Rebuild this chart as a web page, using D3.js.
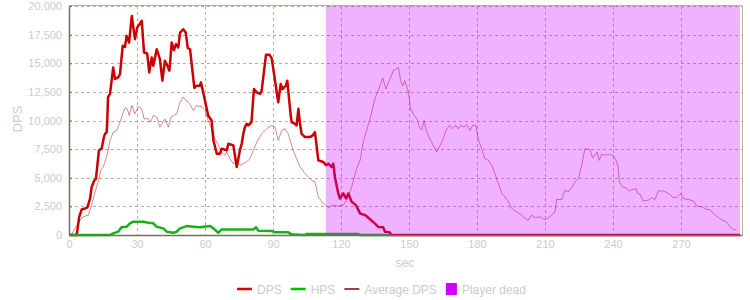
<!DOCTYPE html>
<html>
<head>
<meta charset="utf-8">
<script src="https://cdn.jsdelivr.net/npm/d3@7"></script>
<style>
  body { margin: 0; background: #fff; }
  svg text { font-family: "Liberation Sans", Arial, sans-serif; fill: #cccccc; }
</style>
</head>
<body>
<div id="chart"></div>
<script>
// time (sec), value pairs
const dps = [[0,0],[3.4,0],[4.5,1590],[5.6,2230],[7.1,2320],[8.1,2410],[9.3,3190],[10,4200],[11.2,4780],[11.9,4930],[13.2,7390],[14.4,7540],[15.4,8550],[15.9,8840],[16.6,8980],[16.9,10000],[17.2,12030],[18.1,12320],[19.5,14635],[20.3,13630],[21.7,13770],[22.5,14060],[23.7,16520],[24.7,16430],[25.4,17390],[26.5,16810],[27.7,19130],[29.1,17100],[30.1,18120],[32.1,18700],[33.1,15940],[34.5,15850],[35.4,14200],[36.5,15500],[37.2,14780],[38.7,16230],[40.1,15370],[41.2,13480],[42.3,15220],[43.4,14780],[44.3,14350],[45.3,16810],[46.3,16150],[47.2,16670],[48.2,16380],[49,17680],[50.4,17970],[51.5,17680],[52.4,16320],[53.4,16230],[55.3,12840],[56.3,13040],[57.8,13040],[58.2,13330],[59.2,12460],[61.4,10430],[62.9,10000],[63.7,8260],[65.2,7100],[66.6,7100],[67.4,7540],[69.6,7390],[70.3,7970],[72.5,7830],[74,5940],[75.4,7390],[76.2,7970],[76.9,8840],[77.6,9420],[78.4,9710],[79.1,9570],[80.5,9850],[81.6,12750],[82.8,12460],[84.3,12320],[85,12610],[86.9,15740],[88.4,15740],[89.4,15450],[90.9,13480],[92.3,11590],[93.4,13190],[94.2,12750],[95.7,13040],[96.3,13480],[97.5,11020],[98.2,9850],[99.7,9710],[100.4,9570],[101.2,11020],[101.9,9710],[102.6,8840],[104.1,8550],[106.3,8550],[107.5,8700],[108.5,8980],[110,6520],[112.2,6380],[113.4,6090],[114.4,6230],[115.9,5940],[116.6,6230],[117.4,4930],[118.8,3630],[119.5,3190],[121,3630],[122.2,3190],[123.2,3630],[124.7,2900],[126.6,2610],[128.4,1890],[130.6,1740],[132.8,1380],[135,990],[136.4,700],[138.6,670],[139.4,290],[141.6,230],[141.9,0],[296,0]];

const hps = [[0,0],[18.1,0],[19.5,145],[21.7,290],[23.2,670],[25.4,720],[26.9,1020],[28.4,1160],[32.8,1160],[35,1070],[37.2,1020],[38.7,720],[41.6,580],[43.1,290],[46,200],[47.5,290],[49,580],[51.9,780],[54.8,720],[57.8,670],[62.2,780],[63.7,580],[65.9,200],[67.4,490],[81.3,490],[82.5,670],[83.5,380],[89.4,350],[90.9,230],[96.7,230],[98.2,60],[104.1,0],[104.8,90],[127.6,90],[128.4,0],[141.6,0]];

const avgDps = [[0.9,0],[4.9,1300],[6.3,1590],[8.5,1740],[10,2610],[11.5,3770],[12.9,4640],[14,5650],[15.1,5940],[16.6,6810],[18.1,8260],[19.5,8980],[21,9130],[22.5,9850],[23.7,10580],[24.7,11100],[25.7,11020],[26.6,10430],[27.7,11300],[29.1,10580],[30.6,11220],[32.1,11020],[33.1,10150],[35,10150],[36,9850],[37.2,10430],[38.7,10290],[40.1,9420],[40.9,9710],[42.3,10150],[43.8,9420],[45,10290],[46.2,10430],[47.5,10580],[48.7,11450],[50.2,12030],[51.2,11890],[53.4,11400],[54.8,10870],[56.3,11300],[57.8,11220],[58.5,11220],[60,10870],[61.4,10000],[62.9,9280],[64.4,8410],[65.9,7830],[67.4,7240],[68.8,6960],[69.6,7240],[71,6670],[72.5,6230],[74,6380],[75.4,6090],[76.9,6230],[78.4,6380],[79.8,6670],[81.3,7390],[82.8,8110],[85,8840],[87.2,9280],[89.4,9570],[90.9,9420],[92.3,8260],[93.8,9130],[95.3,9280],[96.7,8840],[98.9,7390],[101.9,5940],[104.1,5370],[107.1,4780],[108.5,4640],[110,3330],[112.2,2760],[114.4,2410],[116.6,2610],[118.8,2520],[121,2610],[122.5,3040],[124.7,4200],[126.9,5800],[128.4,6520],[129.8,8110],[131.3,9130],[132.8,10150],[135,11890],[136.4,12610],[138.4,13710],[139.8,12750],[141.6,13630],[143.1,14350],[144.3,14490],[145.3,14640],[146.3,13480],[147.2,13040],[148.2,13480],[149.7,12460],[150.7,11020],[151.9,10580],[153.4,10150],[154.8,9350],[155.6,9200],[156.6,10000],[157.8,8980],[159.2,8410],[160.7,7830],[162.2,7240],[163.7,7830],[165.1,8410],[166.3,9130],[167.8,9570],[169.2,9280],[170.7,9570],[171.7,9280],[172.9,9570],[174.2,9420],[175.4,9650],[176.9,9130],[178.1,9570],[179.5,9570],[180.5,8410],[182,7540],[183.5,6670],[185,6520],[186.5,6090],[187.9,5370],[189.4,4500],[190.9,3630],[192.3,3330],[193.8,2900],[195.3,2320],[197.5,2030],[199.7,1740],[201.1,1450],[202.6,1300],[204.1,1740],[205.6,1510],[207.8,1590],[210,1330],[212.2,1590],[214.4,2030],[215.1,3100],[217.3,3100],[218.8,3910],[220.3,3770],[221.8,4150],[223.2,4640],[224.7,4930],[226.2,6090],[227.6,7540],[229.8,7450],[231,6760],[233,7240],[233.9,6520],[235,7040],[236.4,6960],[237.9,7040],[240.1,6960],[241.3,6520],[242.3,5940],[242.8,4640],[244.2,4200],[245.7,4110],[247.2,3850],[248.7,3970],[250.1,4060],[250.9,3630],[251.9,3570],[253.3,2980],[255.5,3040],[257,3240],[258.5,3100],[260,3850],[262.2,3850],[264.4,3630],[266.6,3280],[268.1,3280],[269.9,3630],[271,3190],[273.2,3100],[275.4,2980],[276.9,2520],[279.1,2460],[281.3,2230],[282.7,2230],[284.2,1890],[286.4,1540],[288.6,1250],[290.1,1160],[291.6,720],[293,500],[294.5,430]];

const deadFrom = 113.3, deadTo = 296;
const xTicks = [0, 30, 60, 90, 120, 150, 180, 210, 240, 270];
const yTicks = [0, 2500, 5000, 7500, 10000, 12500, 15000, 17500, 20000];

const legendItems = [
  { label: "DPS", type: "line", color: "#dd0000", w: 2.5 },
  { label: "HPS", type: "line", color: "#00bb00", w: 2.5 },
  { label: "Average DPS", type: "line", color: "#880000", w: 1.5 },
  { label: "Player dead", type: "box", color: "#cc00ff" }
];

const W = 750, H = 300;
const plotL = 69, plotR = 742, plotT = 6, plotB = 235;

const svg = d3.select("#chart").append("svg")
  .attr("width", W)
  .attr("height", H);

const x = d3.scaleLinear().domain([0, 296.9]).range([plotL, plotR]);
const y = d3.scaleLinear().domain([0, 20000]).range([plotB, plotT]);

// grid
svg.append("g").selectAll("line")
  .data(xTicks.slice(1))
  .enter().append("line")
  .attr("x1", d => Math.round(x(d)) + 0.5).attr("x2", d => Math.round(x(d)) + 0.5)
  .attr("y1", plotT).attr("y2", plotB)
  .attr("stroke", "#b3ae9f").attr("stroke-dasharray", "3,3");

svg.append("g").selectAll("line")
  .data(yTicks.slice(1))
  .enter().append("line")
  .attr("x1", plotL).attr("x2", plotR)
  .attr("y1", d => Math.round(y(d)) + 0.5).attr("y2", d => Math.round(y(d)) + 0.5)
  .attr("stroke", "#b3ae9f").attr("stroke-dasharray", "3,3");

const line = d3.line().x(d => x(d[0])).y(d => y(d[1]));

svg.append("path").datum(dps)
  .attr("d", line).attr("fill", "none")
  .attr("stroke", "#cc0000").attr("stroke-width", 2.5).attr("stroke-linejoin", "round");

svg.append("path").datum(hps)
  .attr("d", line).attr("fill", "none")
  .attr("stroke", "#18b018").attr("stroke-width", 2.5).attr("stroke-linejoin", "round");

svg.append("path").datum(avgDps)
  .attr("d", line).attr("fill", "none")
  .attr("stroke", "#990000").attr("stroke-width", 0.9).attr("stroke-opacity", 0.5);

// dead overlay drawn on top of lines
svg.append("rect")
  .attr("x", x(deadFrom)).attr("y", plotT)
  .attr("width", x(deadTo) - x(deadFrom)).attr("height", plotB - plotT)
  .attr("fill", "#cc00ff").attr("fill-opacity", 0.3);

// borders
svg.append("line").attr("x1", plotL).attr("x2", plotR).attr("y1", plotT - 0.5).attr("y2", plotT - 0.5)
  .attr("stroke", "#b4b0a4");
svg.append("line").attr("x1", plotR + 0.5).attr("x2", plotR + 0.5).attr("y1", plotT).attr("y2", plotB)
  .attr("stroke", "#b4b0a4");

const yAxis = svg.append("g")
  .attr("transform", `translate(${plotL},0)`)
  .call(d3.axisLeft(y).tickValues(yTicks).tickFormat(d3.format(","))
    .tickSizeInner(-3).tickSizeOuter(0).tickPadding(7));
const xAxis = svg.append("g")
  .attr("transform", `translate(0,${plotB})`)
  .call(d3.axisBottom(x).tickValues(xTicks).tickSize(0).tickPadding(5));

[yAxis, xAxis].forEach(g => {
  g.select(".domain").attr("stroke", "#6f6f5a").attr("stroke-width", 1.5);
  g.selectAll(".tick line").attr("stroke", "#6f6f5a");
  g.selectAll("text").attr("fill", "#cccccc").style("font-size", "11px");
});

svg.append("text")
  .attr("transform", `translate(22,119) rotate(-90)`)
  .attr("text-anchor", "middle")
  .style("font-size", "13px")
  .text("DPS");

svg.append("text")
  .attr("x", 405).attr("y", 267)
  .attr("text-anchor", "middle")
  .style("font-size", "12px")
  .text("sec");

// legend
const lg = svg.append("g").attr("transform", "translate(0,289)");
let lx = 237;
legendItems.forEach(it => {
  if (it.type === "line") {
    lg.append("line").attr("x1", lx).attr("x2", lx + 15).attr("y1", 0).attr("y2", 0)
      .attr("stroke", it.color).attr("stroke-width", it.w);
    lx += 20;
  } else {
    lg.append("rect").attr("x", lx).attr("y", -6).attr("width", 11).attr("height", 12)
      .attr("fill", it.color);
    lx += 16;
  }
  const t = lg.append("text").attr("x", lx).attr("y", 4.5)
    .style("font-size", "12px").text(it.label);
  lx += t.node().getComputedTextLength() + 9;
});
</script>
</body>
</html>
